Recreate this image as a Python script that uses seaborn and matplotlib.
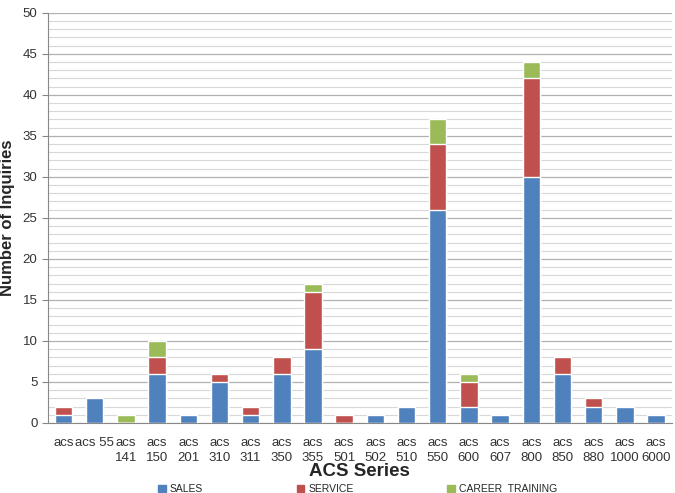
import numpy as np
import pandas as pd
import matplotlib
matplotlib.use("Agg")
import matplotlib.pyplot as plt
import seaborn as sns
from matplotlib.patches import Patch

models = ['acs', 'acs 55', 'acs\n141', 'acs\n150', 'acs\n201', 'acs\n310', 'acs\n311',
          'acs\n350', 'acs\n355', 'acs\n501', 'acs\n502', 'acs\n510', 'acs\n550',
          'acs\n600', 'acs\n607', 'acs\n800', 'acs\n850', 'acs\n880', 'acs\n1000', 'acs\n6000']
sales = [1, 3, 0, 6, 1, 5, 1, 6, 9, 0, 1, 2, 26, 2, 1, 30, 6, 2, 2, 1]
service = [1, 0, 0, 2, 0, 1, 1, 2, 7, 1, 0, 0, 8, 3, 0, 12, 2, 1, 0, 0]
career = [0, 0, 1, 2, 0, 0, 0, 0, 1, 0, 0, 0, 3, 1, 0, 2, 0, 0, 0, 0]

df = pd.DataFrame({'model': models, 'sales': sales, 'service': service, 'career': career})
df['s1'] = df['sales'] + df['service']
df['s2'] = df['s1'] + df['career']

blue, red, green = '#4F81BD', '#C0504D', '#9BBB59'

sns.set_style('white')
plt.rcParams['font.family'] = ['Liberation Sans', 'DejaVu Sans']

fig = plt.figure(figsize=(6.75, 4.93), dpi=100)
ax = fig.add_axes([0.071, 0.142, 0.924, 0.832])

sns.barplot(data=df, x='model', y='s2', color=green, width=0.56, saturation=1, ax=ax, zorder=3)
sns.barplot(data=df, x='model', y='s1', color=red, width=0.56, saturation=1, ax=ax, zorder=3)
sns.barplot(data=df, x='model', y='sales', color=blue, width=0.56, saturation=1, ax=ax, zorder=3)

ax.set_ylim(0, 50)
ax.set_xlim(-0.5, len(models) - 0.5)
ax.set_yticks(range(0, 51, 5))
ax.set_yticks(range(0, 51, 1), minor=True)
ax.grid(axis='y', which='major', color='#b0b0b0', lw=0.9, zorder=0)
ax.grid(axis='y', which='minor', color='#d8d8d8', lw=0.8, zorder=0)
ax.set_axisbelow(True)

for s in ['top', 'right']:
    ax.spines[s].set_visible(False)
ax.spines['left'].set_color('#888888')
ax.spines['bottom'].set_color('#888888')

ax.tick_params(axis='y', labelsize=9.5, colors='#333333', length=4, left=True, color='#888888')
ax.tick_params(axis='x', labelsize=9.5, colors='#333333', length=0, pad=10)
for t in ax.get_xticklabels():
    t.set_linespacing(1.4)

ax.set_xlabel('ACS Series', fontsize=13.5, fontweight='bold')
ax.xaxis.set_label_coords(0.5, -0.098)
ax.set_ylabel('Number of Inquiries', fontsize=12, fontweight='bold')
ax.yaxis.set_label_coords(-0.052, 0.5)

handles = [Patch(color=blue, label='SALES'), Patch(color=red, label='SERVICE'),
           Patch(color=green, label='CAREER  TRAINING')]
fig.legend(handles=handles, loc='lower center', ncol=3, frameon=False, fontsize=7.5,
           bbox_to_anchor=(0.53, -0.022), handlelength=0.7, handleheight=0.7,
           columnspacing=9, handletextpad=0.4)

fig.savefig('out.png', dpi=100)
